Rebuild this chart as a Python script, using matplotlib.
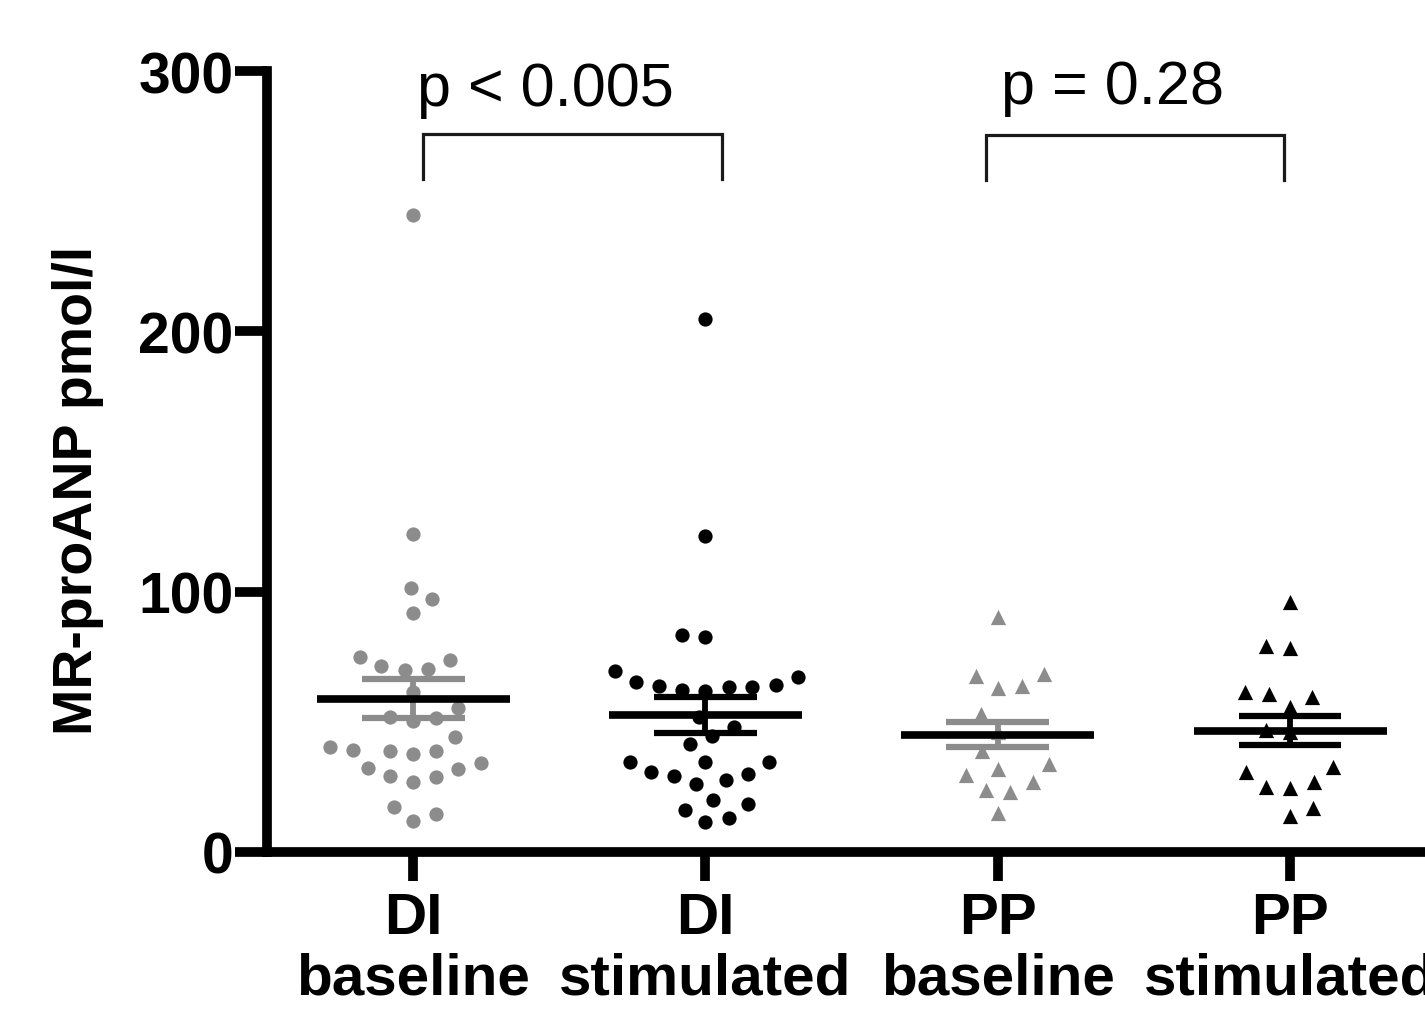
import numpy as np
import matplotlib
matplotlib.use("Agg")
import matplotlib.pyplot as plt

# ---------------- data ----------------
categories = ["DI\nbaseline", "DI\nstimulated", "PP\nbaseline", "PP\nstimulated"]

di_baseline = [244.7, 122.2, 101.4, 97.2, 91.8, 73.8, 74.9, 70.3, 69.9, 71.5,
               61.5, 55.3, 51.4, 50.3, 51.9, 44.2, 40.3, 38.8, 37.6, 38.8,
               39.2, 34.2, 31.9, 32.3, 28.8, 26.9, 29.2, 17.3, 14.6, 11.9]
di_stimulated = [204.8, 121.4, 83.4, 82.6, 69.5, 65.3, 63.4, 63.4, 61.9, 62.2,
                 63.8, 64.2, 67.2, 51.9, 48.0, 41.5, 44.6, 34.6, 34.6, 34.6,
                 30.0, 27.7, 26.1, 29.2, 30.7, 20.0, 16.1, 11.5, 13.1, 18.4]
pp_baseline = [90.3, 67.6, 68.4, 63.0, 63.8, 53.0, 46.0, 38.8, 33.8, 31.9,
               29.6, 26.9, 23.8, 23.1, 15.0]
pp_stimulated = [96.0, 79.1, 78.4, 61.5, 60.7, 59.5, 55.7, 47.0, 46.0, 32.7,
                 30.7, 26.9, 25.0, 24.6, 16.9, 13.8]

group_means = [58.8, 52.6, 45.1, 46.6]
group_sems = [7.5, 7.0, 4.75, 5.5]

y_ticks = [0, 100, 200, 300]
p_labels = ["p < 0.005", "p = 0.28"]
y_label = "MR-proANP pmol/l"

# ---------------- styling ----------------
plt.rcParams["font.family"] = ["Liberation Sans", "DejaVu Sans"]
GRAY = "#8c8c8c"
group_colors = [GRAY, "black", GRAY, "black"]
group_markers = ["o", "o", "^", "^"]
groups = [di_baseline, di_stimulated, pp_baseline, pp_stimulated]

W, H = 1425, 1020
fig = plt.figure(figsize=(W / 100, H / 100), dpi=100)
x_left_px, x_right_px = 267.0, 1436.2
y_bottom_px, y_top_px = 853.0, 72.0
ax = fig.add_axes([x_left_px / W, (H - y_bottom_px) / H,
                   (x_right_px - x_left_px) / W, (y_bottom_px - y_top_px) / H])
ax.set_xlim(-0.5, 3.5)
ax.set_ylim(0, 300)

px_per_x = (x_right_px - x_left_px) / 4.0
px_per_y = (y_bottom_px - y_top_px) / 300.0


def swarm_offsets(values, dist_px):
    """Beeswarm layout: offsets (in x data units) so markers do not overlap."""
    vals = np.asarray(values, dtype=float)
    order = np.argsort(vals)
    placed = []
    offs = np.zeros(len(vals))
    flip = 1
    for i in order:
        y = vals[i] * px_per_y
        cands = [0.0]
        for (xp, yp) in placed:
            dy = abs(y - yp)
            if dy < dist_px:
                dx = np.sqrt(dist_px ** 2 - dy ** 2)
                cands += [xp + dx, xp - dx]
        good = []
        for c in cands:
            ok = all((c - xp) ** 2 + (y - yp) ** 2 >= dist_px ** 2 - 1e-6
                     for (xp, yp) in placed)
            if ok:
                good.append(c)
        best = min(good, key=lambda c: (round(abs(c), 3), -flip * np.sign(c)))
        if best != 0:
            flip = -flip
        placed.append((best, y))
        offs[i] = best / px_per_x
    return offs


for k, (vals, col, mk) in enumerate(zip(groups, group_colors, group_markers)):
    d = 23.5 if mk == "o" else 24.5
    offs = swarm_offsets(vals, d)
    size = 105 if mk == "o" else 120
    ax.scatter(k + offs, vals, s=size, marker=mk, color=col,
               linewidths=0, zorder=3, clip_on=False)

# mean and SEM
for k, (m, se, col) in enumerate(zip(group_means, group_sems, group_colors)):
    ax.plot([k, k], [m - se, m + se], color=col, lw=4.2, zorder=4,
            solid_capstyle="butt")
    ax.plot([k - 0.176, k + 0.176], [m + se, m + se], color=col, lw=4.5,
            zorder=4, solid_capstyle="butt")
    ax.plot([k - 0.176, k + 0.176], [m - se, m - se], color=col, lw=4.5,
            zorder=4, solid_capstyle="butt")
    ax.plot([k - 0.33, k + 0.33], [m, m], color="black", lw=5.5, zorder=5,
            solid_capstyle="butt")

# significance brackets
brackets = [((0.034, 1.057), 258.5, 275.8), ((1.96, 2.98), 258.0, 275.5)]
for (x0, x1), yb, yt in brackets:
    ax.plot([x0, x0, x1, x1], [yb, yt, yt, yb], color="#1a1a1a", lw=2.3,
            clip_on=False, solid_joinstyle="miter", zorder=2)
ax.text(0.014, 286.8, p_labels[0], fontsize=44, ha="left", va="baseline")
ax.text(2.012, 287.6, p_labels[1], fontsize=44, ha="left", va="baseline")

# axes styling
for s in ["top", "right"]:
    ax.spines[s].set_visible(False)
for s in ["left", "bottom"]:
    ax.spines[s].set_linewidth(7)
ax.set_yticks(y_ticks, labels=[str(v) for v in y_ticks], fontsize=41,
              fontweight="bold")
ax.set_xticks(range(len(categories)), labels=categories, fontsize=42,
              fontweight="bold", linespacing=1.15)
ax.tick_params(axis="y", length=23, width=7, pad=1)
ax.tick_params(axis="x", length=21, width=7, pad=7)

fig.text(78 / W, 1 - 490 / H, y_label, rotation=90, fontsize=40,
         fontweight="bold", ha="center", va="center")

fig.savefig("out.png", dpi=100)
